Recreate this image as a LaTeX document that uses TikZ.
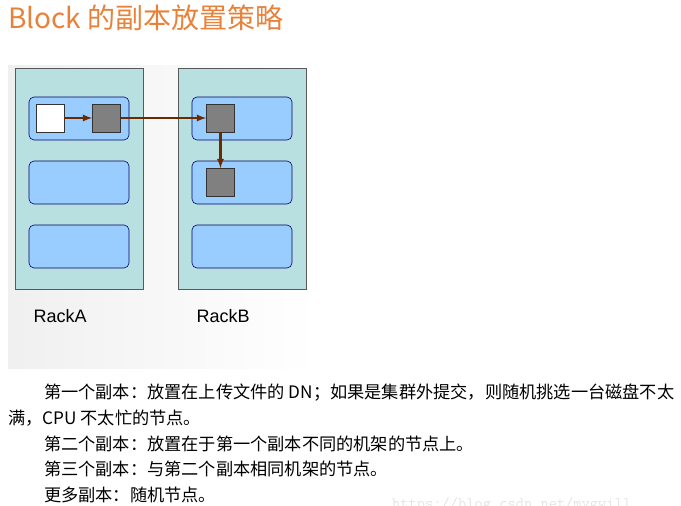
\documentclass[tikz,border=0pt]{standalone}
\usepackage{fontspec}
\usepackage{xcolor}
\newfontfamily\cjk{Noto Sans CJK SC}
\setsansfont{Liberation Sans}
\definecolor{rackfill}{HTML}{B9E0E0}
\definecolor{bladefill}{HTML}{99CCFF}
\definecolor{linkbrown}{HTML}{6B2A00}
\definecolor{titleorange}{HTML}{E8823A}
\begin{document}
\begin{tikzpicture}
    [
        x=1pt, y=-1pt,
        rack/.style={draw=gray!70!black, fill=rackfill, line width=0.6pt},
        blade/.style={draw=black!60!blue, fill=bladefill, rounded corners=5pt, line width=0.6pt},
        block/.style={draw=black!80, line width=0.6pt, minimum size=28pt, inner sep=0pt},
        link/.style={-latex, draw=linkbrown, line width=2.2pt},
        line/.style={anchor=base west, font=\cjk\fontsize{17.2}{17.2}\selectfont, inner sep=0pt}
    ]
    \useasboundingbox (0,0) rectangle (681,506);
    \node[anchor=west, font=\cjk\fontsize{28}{28}\selectfont, text=titleorange, inner sep=0pt] (title) at (8,18) {Block 的副本放置策略};
    % picture frame
    \shade[left color=gray!12, right color=white] (8,65) rectangle (315,368);
    \draw[rack] (15,68) rectangle (143,289);
    \draw[rack] (178,68) rectangle (306,289);
    \foreach \y in {97,161,225} {
        \draw[blade] (29,\y) rectangle (129,\y+43);
        \draw[blade] (192,\y) rectangle (292,\y+43);
    }
    \node[block, fill=white] (orig) at (50,118) {};
    \node[block, fill=gray] (first) at (106.5,118) {};
    \node[block, fill=gray] (second) at (220.5,118) {};
    \node[block, fill=gray] (third) at (220.5,182.5) {};
    \draw[link] (orig) -- (first);
    \draw[link] (first) -- (second);
    \draw[link] (second) -- (third);
    \node[anchor=west, font=\sffamily\fontsize{18}{18}\selectfont] (racka) at (30,316) {RackA};
    \node[anchor=west, font=\sffamily\fontsize{18}{18}\selectfont] (rackb) at (193,316) {RackB};
    % description
    \node[line] (l1) at (44,398) {第一个副本：放置在上传文件的 DN；如果是集群外提交，则随机挑选一台磁盘不太};
    \node[line] (l2) at (8,424) {满，CPU 不太忙的节点。};
    \node[line] (l3) at (44,450) {第二个副本：放置在于第一个副本不同的机架的节点上。};
    \node[line] (l4) at (44,475) {第三个副本：与第二个副本相同机架的节点。};
    \node[line] (l5) at (44,501) {更多副本：随机节点。};
    \node[anchor=base west, font=\ttfamily\fontsize{16}{16}\selectfont, text=gray!22, inner sep=0pt] (mark) at (392,508) {https://blog.csdn.net/mygwill};
\end{tikzpicture}
\end{document}
